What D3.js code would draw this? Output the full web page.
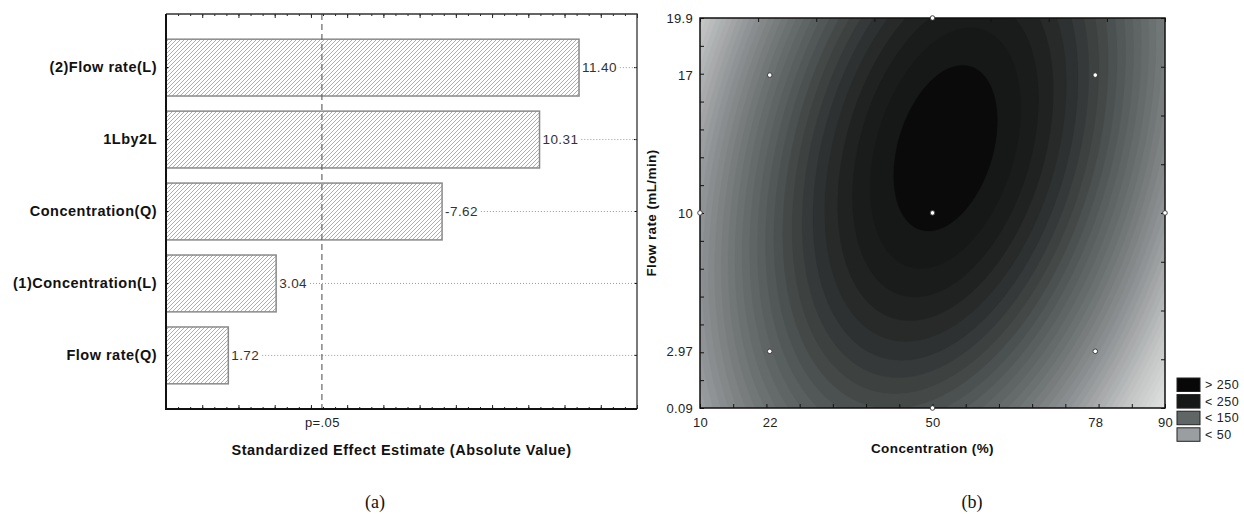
<!DOCTYPE html>
<html>
<head>
<meta charset="utf-8">
<script src="https://cdn.jsdelivr.net/npm/d3@7"></script>
<style>
    body { margin: 0; background: #fff; }
    svg { display: block; font-family: "Liberation Sans", Arial, sans-serif; }
</style>
</head>
<body>
<svg id="chart" width="1244" height="514"></svg>
<script>
// (a) Pareto chart of standardized effects
const effectNames = ["(2)Flow rate(L)", "1Lby2L", "Concentration(Q)", "(1)Concentration(L)", "Flow rate(Q)"];
const effectValues = [11.40, 10.31, 7.62, 3.04, 1.72];
const effectLabels = ["11.40", "10.31", "-7.62", "3.04", "1.72"];
const pCritical = 4.303;   // t value for p=.05

// (b) response surface contour
const concTicks = [10, 22, 50, 78, 90];
const flowTicks = [0.09, 2.97, 10, 17, 19.9];
const designConc = [22, 78, 22, 78, 50, 50, 50, 10, 90];
const designFlow = [17, 17, 2.97, 2.97, 10, 19.9, 0.09, 10, 10];
// fitted quadratic, coded units: b0, b1, b2, b11, b22, b12
const surfaceCoef = [253.5, -0.45, 23.5, -100, -28, 35];
const legendLabels = ["> 250", "< 250", "< 150", "< 50"];
const legendColors = ["#080808", "#161818", "#5f6665", "#9b9ea0"];

const svg = d3.select("#chart");

// ---------- panel (a) ----------
const pLeft = 166, pRight = 637, pTop = 14, pBottom = 409;

const x = d3.scaleLinear([0, 13], [pLeft, pRight]);
const y = d3.scaleBand(effectNames, [pTop, pBottom])
    .paddingInner(0.21)
    .paddingOuter(0.35);

const defs = svg.append("defs");
defs.append("pattern")
    .attr("id", "hatch")
    .attr("patternUnits", "userSpaceOnUse")
    .attr("width", 4)
    .attr("height", 4)
    .append("path")
        .attr("d", "M-1,1 l2,-2 M0,4 l4,-4 M3,5 l2,-2")
        .attr("stroke", "#8a8a8a")
        .attr("stroke-width", 0.7);

const pareto = svg.append("g");

// axis ticks (no numbers, only p=.05)
const minorTicks = d3.range(0, 13.001, 1 / 3);
const majorTicks = d3.range(0, 14, 1);

pareto.append("g")
    .attr("transform", `translate(0, ${pBottom})`)
    .call(d3.axisBottom(x).tickValues(minorTicks).tickSize(-2).tickFormat(""));
pareto.append("g")
    .attr("transform", `translate(0, ${pBottom})`)
    .call(d3.axisBottom(x).tickValues(majorTicks).tickSize(-4).tickFormat(""));
pareto.append("g")
    .attr("transform", `translate(0, ${pTop})`)
    .call(d3.axisTop(x).tickValues(minorTicks).tickSize(-2).tickFormat(""));
pareto.append("g")
    .attr("transform", `translate(0, ${pTop})`)
    .call(d3.axisTop(x).tickValues(majorTicks).tickSize(-4).tickFormat(""));

const pAxis = pareto.append("g")
    .attr("transform", `translate(0, ${pBottom})`)
    .call(d3.axisBottom(x).tickValues([pCritical]).tickSize(0).tickPadding(9).tickFormat(() => "p=.05"));
pAxis.selectAll("text")
    .attr("font-size", 13)
    .attr("font-family", "Liberation Sans, Arial, sans-serif")
    .attr("fill", "#222")
    .attr("letter-spacing", 0.4);

pareto.selectAll(".domain").remove();
pareto.selectAll(".tick line").attr("stroke", "#222");

// row axis with labels
const rowAxis = pareto.append("g")
    .attr("transform", `translate(${pLeft}, 0)`)
    .call(d3.axisLeft(y).tickSize(-3).tickPadding(9));
rowAxis.select(".domain").remove();
rowAxis.selectAll("text")
    .attr("font-size", 14.5)
    .attr("font-weight", "bold")
    .attr("font-family", "Liberation Sans, Arial, sans-serif")
    .attr("fill", "#111")
    .attr("letter-spacing", 0.5);

const rowAxisR = pareto.append("g")
    .attr("transform", `translate(${pRight}, 0)`)
    .call(d3.axisRight(y).tickSize(-3).tickFormat(""));
rowAxisR.select(".domain").remove();

// bars
const rows = effectNames.map((name, i) => ({ name, value: effectValues[i], label: effectLabels[i] }));

pareto.selectAll("rect.bar")
    .data(rows)
    .join("rect")
        .classed("bar", true)
        .attr("x", x(0))
        .attr("y", d => y(d.name))
        .attr("width", d => x(d.value) - x(0))
        .attr("height", y.bandwidth())
        .attr("fill", "url(#hatch)")
        .attr("stroke", "#8a8a8a")
        .attr("stroke-width", 1.5);

const valueText = pareto.selectAll("text.val")
    .data(rows)
    .join("text")
        .classed("val", true)
        .attr("x", d => x(d.value) + 3)
        .attr("y", d => y(d.name) + y.bandwidth() / 2)
        .attr("dy", "0.35em")
        .attr("font-size", 13.5)
        .attr("letter-spacing", 0.4)
        .attr("fill", "#333")
        .text(d => d.label);

// dotted lines after the value labels
valueText.each(function(d) {
    const w = this.getComputedTextLength();
    pareto.append("line")
        .attr("x1", x(d.value) + w + 6)
        .attr("x2", pRight)
        .attr("y1", y(d.name) + y.bandwidth() / 2)
        .attr("y2", y(d.name) + y.bandwidth() / 2)
        .attr("stroke", "#999")
        .attr("stroke-width", 1)
        .attr("stroke-dasharray", "1,2");
});

// p = .05 line
pareto.append("line")
    .attr("x1", x(pCritical))
    .attr("x2", x(pCritical))
    .attr("y1", pTop)
    .attr("y2", pBottom)
    .attr("stroke", "#666")
    .attr("stroke-width", 1.2)
    .attr("stroke-dasharray", "6,4");

// frame
pareto.append("path")
    .attr("d", `M${pLeft},${pTop}H${pRight}V${pBottom}`)
    .attr("fill", "none")
    .attr("stroke", "#333")
    .attr("stroke-width", 1.3);
pareto.append("path")
    .attr("d", `M${pLeft},${pTop}V${pBottom}H${pRight}`)
    .attr("fill", "none")
    .attr("stroke", "#111")
    .attr("stroke-width", 2);

pareto.append("text")
    .attr("x", (pLeft + pRight) / 2)
    .attr("y", 455)
    .attr("text-anchor", "middle")
    .attr("font-size", 14.5)
    .attr("font-weight", "bold")
    .attr("letter-spacing", 0.5)
    .attr("fill", "#111")
    .text("Standardized Effect Estimate (Absolute Value)");

svg.append("text")
    .attr("x", 375)
    .attr("y", 508)
    .attr("text-anchor", "middle")
    .attr("font-family", "Liberation Serif, Times New Roman, serif")
    .attr("font-size", 18)
    .attr("fill", "#111")
    .text("(a)");

// ---------- panel (b) ----------
const cl = 700, cr = 1165, ct = 18, cb = 408;
const xc = d3.scaleLinear([10, 90], [cl, cr]);
const yf = d3.scaleLinear([0.09, 19.9], [cb, ct]);

const surface = (c, f) => {
    const [b0, b1, b2, b11, b22, b12] = surfaceCoef;
    const u = (c - 50) / 28, v = (f - 10) / 7;
    return b0 + b1 * u + b2 * v + b11 * u * u + b22 * v * v + b12 * u * v;
};

const nx = 233, ny = 195;
const cw = (cr - cl) / nx, ch = (cb - ct) / ny;
const grid = new Array(nx * ny);
for (let j = 0; j < ny; j++) {
    for (let i = 0; i < nx; i++) {
        grid[j * nx + i] = surface(xc.invert(cl + (i + 0.5) * cw), yf.invert(ct + (j + 0.5) * ch));
    }
}

const levels = d3.range(-130, 251, 10);
const shade = d3.scaleLinear()
    .domain([-110, -30, 50, 150, 230, 250, 256])
    .range(["#e2e2e2", "#c2c4c4", "#939698", "#565c5b", "#1c1e1e", "#141616", "#080808"])
    .clamp(true);

defs.append("clipPath")
    .attr("id", "plotclip")
    .append("rect")
        .attr("x", cl).attr("y", ct)
        .attr("width", cr - cl).attr("height", cb - ct);

const contour = svg.append("g").attr("clip-path", "url(#plotclip)");

contour.append("rect")
    .attr("x", cl).attr("y", ct)
    .attr("width", cr - cl).attr("height", cb - ct)
    .attr("fill", shade(-135));

const toPx = d3.geoTransform({
    point(px, py) { this.stream.point(cl + px * cw, ct + py * ch); }
});

contour.selectAll("path")
    .data(d3.contours().size([nx, ny]).thresholds(levels)(grid))
    .join("path")
        .attr("d", d3.geoPath(toPx))
        .attr("fill", d => shade(d.value + 5))
        .attr("stroke", d => shade(d.value + 5))
        .attr("stroke-width", 0.4);

// ticks (inward)
const concMinor = d3.range(15).map(i => xc.invert(cl + i * (cr - cl) / 14));
const flowMinor = d3.range(15).map(i => yf.invert(ct + i * (cb - ct) / 14));
const concTop = d3.range(9).map(i => xc.invert(cl + i * (cr - cl) / 8));
const flowRight = d3.range(9).map(i => yf.invert(ct + i * (cb - ct) / 8));

const axes = svg.append("g");
axes.append("g").attr("transform", `translate(0, ${cb})`)
    .call(d3.axisBottom(xc).tickValues(concMinor).tickSize(-4).tickFormat(""));
axes.append("g").attr("transform", `translate(0, ${ct})`)
    .call(d3.axisTop(xc).tickValues(concTop).tickSize(-4).tickFormat(""));
axes.append("g").attr("transform", `translate(${cl}, 0)`)
    .call(d3.axisLeft(yf).tickValues(flowMinor).tickSize(-4).tickFormat(""));
axes.append("g").attr("transform", `translate(${cr}, 0)`)
    .call(d3.axisRight(yf).tickValues(flowRight).tickSize(-4).tickFormat(""));

const xLab = axes.append("g").attr("transform", `translate(0, ${cb})`)
    .call(d3.axisBottom(xc).tickValues(concTicks).tickSize(0).tickPadding(10).tickFormat(d3.format("")));
const yLab = axes.append("g").attr("transform", `translate(${cl}, 0)`)
    .call(d3.axisLeft(yf).tickValues(flowTicks).tickSize(0).tickPadding(7).tickFormat(d3.format("")));
[xLab, yLab].forEach(g => g.selectAll("text")
    .attr("font-size", 13)
    .attr("font-family", "Liberation Sans, Arial, sans-serif")
    .attr("letter-spacing", 0.3)
    .attr("fill", "#222"));

axes.selectAll(".domain").remove();
axes.selectAll(".tick line").attr("stroke", "#111");

svg.append("rect")
    .attr("x", cl).attr("y", ct)
    .attr("width", cr - cl).attr("height", cb - ct)
    .attr("fill", "none")
    .attr("stroke", "#111")
    .attr("stroke-width", 1.5);

// design points
svg.append("g")
    .selectAll("circle")
    .data(designConc.map((c, i) => [c, designFlow[i]]))
    .join("circle")
        .attr("cx", d => xc(d[0]))
        .attr("cy", d => yf(d[1]))
        .attr("r", 2.3)
        .attr("fill", "#fff")
        .attr("stroke", "#333")
        .attr("stroke-width", 0.9);

svg.append("text")
    .attr("x", (cl + cr) / 2)
    .attr("y", 453)
    .attr("text-anchor", "middle")
    .attr("font-size", 13.5)
    .attr("font-weight", "bold")
    .attr("letter-spacing", 0.4)
    .attr("fill", "#111")
    .text("Concentration (%)");

svg.append("text")
    .attr("transform", `translate(656, ${(ct + cb) / 2}) rotate(-90)`)
    .attr("text-anchor", "middle")
    .attr("font-size", 13.5)
    .attr("font-weight", "bold")
    .attr("letter-spacing", 0.4)
    .attr("fill", "#111")
    .text("Flow rate (mL/min)");

svg.append("text")
    .attr("x", 972)
    .attr("y", 508)
    .attr("text-anchor", "middle")
    .attr("font-family", "Liberation Serif, Times New Roman, serif")
    .attr("font-size", 18)
    .attr("fill", "#111")
    .text("(b)");

// legend
const legend = svg.append("g")
    .selectAll("g")
    .data(legendLabels)
    .join("g")
        .attr("transform", (d, i) => `translate(1177, ${378 + i * 16.6})`);

legend.append("rect")
    .attr("width", 23)
    .attr("height", 13.5)
    .attr("fill", (d, i) => legendColors[i])
    .attr("stroke", "#222")
    .attr("stroke-width", 1);

legend.append("text")
    .attr("x", 28)
    .attr("y", 11)
    .attr("font-size", 12.5)
    .attr("letter-spacing", 0.5)
    .attr("fill", "#222")
    .text(d => d);
</script>
</body>
</html>
